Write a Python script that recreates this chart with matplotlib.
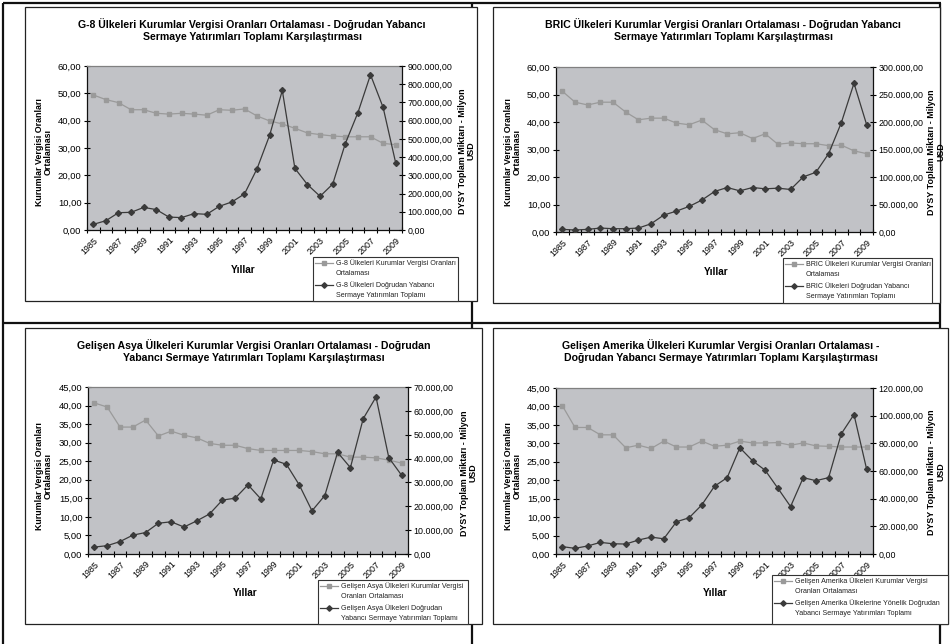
import numpy as np
import matplotlib
matplotlib.use('Agg')
import matplotlib.pyplot as plt
from matplotlib.lines import Line2D
from matplotlib.patches import Rectangle
from matplotlib.ticker import FuncFormatter

plt.rcParams['font.family'] = ['Liberation Sans', 'DejaVu Sans']

YEARS = list(range(1985, 2010))

G8_TAX = [49.4, 47.7, 46.6, 44.0, 44.0, 42.7, 42.4, 42.7, 42.4, 42.0, 44.0, 43.8, 44.3,
          41.7, 39.9, 38.8, 37.2, 35.5, 34.9, 34.4, 34.1, 34.1, 34.1, 31.7, 31.2]
G8_FDI = [31000, 51000, 95000, 97000, 124000, 112000, 71000, 68000, 90000, 86000, 130000,
          154000, 198000, 337000, 521000, 766000, 338000, 249000, 185000, 252000, 474000,
          644000, 852000, 673000, 368000]

BRIC_TAX = [51.2, 47.2, 46.2, 47.2, 47.2, 43.6, 40.8, 41.4, 41.4, 39.6, 39.0, 40.7, 37.2,
            35.7, 36.1, 34.0, 35.7, 31.9, 32.4, 32.1, 32.1, 31.4, 31.6, 29.5, 28.5]
BRIC_FDI = [4800, 3600, 4800, 7200, 6000, 6000, 7200, 15000, 30800, 38000, 46500, 58000,
            73600, 80900, 74800, 80900, 78500, 79700, 77300, 100200, 108600, 142400,
            198600, 270400, 195000]

ASYA_TAX = [40.7, 39.6, 34.2, 34.2, 36.1, 31.8, 33.1, 32.0, 31.3, 29.8, 29.3, 29.3, 28.4,
            27.9, 27.9, 27.9, 27.9, 27.6, 27.0, 27.0, 26.1, 26.1, 25.9, 25.3, 24.5]
ASYA_FDI = [2900, 3500, 5200, 7900, 9000, 12900, 13500, 11300, 13900, 16800, 22600, 23400,
            29000, 23100, 39400, 37600, 29000, 18100, 24500, 42600, 36200, 56700, 65800,
            40400, 33000]

AMERIKA_TAX = [40.2, 34.3, 34.3, 32.3, 32.3, 28.8, 29.5, 28.6, 30.6, 29.0, 29.0, 30.6, 29.2,
               29.5, 30.6, 30.1, 30.1, 30.2, 29.5, 30.1, 29.3, 29.2, 29.0, 29.0, 29.0]
AMERIKA_FDI = [5300, 4100, 5800, 8400, 7400, 7200, 10100, 12200, 11000, 23300, 26200, 35500,
               49000, 55200, 76800, 67400, 60500, 47500, 34300, 55200, 53000, 55200, 86900,
               100800, 61200]

TITLES = [
    'G-8 Ülkeleri Kurumlar Vergisi Oranları Ortalaması - Doğrudan Yabancı\n'
    'Sermaye Yatırımları Toplamı Karşılaştırması',
    'BRIC Ülkeleri Kurumlar Vergisi Oranları Ortalaması - Doğrudan Yabancı\n'
    'Sermaye Yatırımları Toplamı Karşılaştırması',
    'Gelişen Asya Ülkeleri Kurumlar Vergisi Oranları Ortalaması - Doğrudan\n'
    'Yabancı Sermaye Yatırımları Toplamı Karşılaştırması',
    'Gelişen Amerika Ülkeleri Kurumlar Vergisi Oranları Ortalaması -\n'
    'Doğrudan Yabancı Sermaye Yatırımları Toplamı Karşılaştırması',
]
TAX_LABELS = [
    'G-8 Ülkeleri Kurumlar Vergisi Oranları\nOrtalaması',
    'BRIC Ülkeleri Kurumlar Vergisi Oranları\nOrtalaması',
    'Gelişen Asya Ülkeleri Kurumlar Vergisi\nOranları Ortalaması',
    'Gelişen Amerika Ülkeleri Kurumlar Vergisi\nOranları Ortalaması',
]
FDI_LABELS = [
    'G-8 Ülkeleri Doğrudan Yabancı\nSermaye Yatırımları Toplamı',
    'BRIC Ülkeleri Doğrudan Yabancı\nSermaye Yatırımları Toplamı',
    'Gelişen Asya Ülkeleri Doğrudan\nYabancı Sermaye Yatırımları Toplamı',
    'Gelişen Amerika Ülkelerine Yönelik Doğrudan\nYabancı Sermaye Yatırımları Toplamı',
]
LEFT_LIMITS = [(60, 10), (60, 10), (45, 5), (45, 5)]
RIGHT_LIMITS = [(900000, 100000), (300000, 50000), (70000, 10000), (120000, 20000)]

TAX_COLOR = '#9a9a9a'
FDI_COLOR = '#3a3a3a'
PLOT_BG = '#c1c2c6'

W, H = 950, 644


def fx(x):
    return x / W


def fy(y):
    return 1 - y / H


def tr_number(v, _pos=None):
    s = f'{v:,.2f}'
    return s.replace(',', '#').replace('.', ',').replace('#', '.')


fig = plt.figure(figsize=(W / 100, H / 100), dpi=100)


def fig_line(x0, y0, x1, y1, lw=1.6, color='#111111', z=-3):
    fig.add_artist(Line2D([fx(x0), fx(x1)], [fy(y0), fy(y1)], transform=fig.transFigure,
                          color=color, lw=lw, zorder=z, solid_capstyle='butt'))


def fig_rect(x0, y0, x1, y1, lw=0.9, edge='#222222', z=-2):
    fig.add_artist(Rectangle((fx(x0), fy(y1)), fx(x1) - fx(x0), fy(y0) - fy(y1),
                             transform=fig.transFigure, facecolor='white', edgecolor=edge,
                             lw=lw, zorder=z))


# table lines behind the chart frames
fig_line(3, 3, 941, 3)
fig_line(3, 3, 3, 644)
fig_line(3, 323, 941, 323)
fig_line(472, 3, 472, 644)
fig_line(940, 3, 940, 644)

# pixel layouts for each panel (frame, plot area, labels, legend)
PANELS = [
    dict(frame=(25, 7, 477, 301), plot=(87, 66, 402, 230), title=(252, 30),
         ylab=(44, 152), ylab2=(467, 151), xlab=(243, 270), legend=(313, 257, 458, 301)),
    dict(frame=(493, 7, 940, 303), plot=(556, 67, 873, 232), title=(723, 30),
         ylab=(513, 152), ylab2=(936, 152), xlab=(716, 272), legend=(783, 258, 932, 303)),
    dict(frame=(25, 328, 482, 624), plot=(88, 387, 408, 554), title=(254, 351),
         ylab=(44, 476), ylab2=(469, 473), xlab=(245, 593), legend=(318, 580, 468, 624)),
    dict(frame=(493, 328, 948, 624), plot=(556, 388, 873, 554), title=(721, 351),
         ylab=(513, 476), ylab2=(936, 472), xlab=(715, 593), legend=(772, 575, 948, 624)),
]

TAX_SERIES = [G8_TAX, BRIC_TAX, ASYA_TAX, AMERIKA_TAX]
FDI_SERIES = [G8_FDI, BRIC_FDI, ASYA_FDI, AMERIKA_FDI]

x = np.arange(len(YEARS))

for i, p in enumerate(PANELS):
    fig_rect(*p['frame'])

    x0, y0, x1, y1 = p['plot']
    ax = fig.add_axes((fx(x0), fy(y1), fx(x1) - fx(x0), fy(y0) - fy(y1)))
    ax.set_facecolor(PLOT_BG)
    ax2 = ax.twinx()

    ax.plot(x, TAX_SERIES[i], color=TAX_COLOR, lw=0.9, marker='s', ms=2.8,
            mec=TAX_COLOR, mfc=TAX_COLOR, zorder=3)
    ax2.plot(x, FDI_SERIES[i], color=FDI_COLOR, lw=0.9, marker='D', ms=3.0,
             mec=FDI_COLOR, mfc=FDI_COLOR, zorder=4)

    lmax, lstep = LEFT_LIMITS[i]
    rmax, rstep = RIGHT_LIMITS[i]
    ax.set_ylim(0, lmax)
    ax.set_yticks(np.arange(0, lmax + lstep / 2, lstep))
    ax2.set_ylim(0, rmax)
    ax2.set_yticks(np.arange(0, rmax + rstep / 2, rstep))
    ax.yaxis.set_major_formatter(FuncFormatter(tr_number))
    ax2.yaxis.set_major_formatter(FuncFormatter(tr_number))

    ax.set_xlim(-0.5, len(YEARS) - 0.5)
    ax.set_xticks(x[::2])
    ax.set_xticklabels([str(y) for y in YEARS[::2]], rotation=45, ha='right', va='top',
                       rotation_mode='anchor', fontsize=6.4)
    ax.set_xticks(np.arange(-0.5, len(YEARS), 1), minor=True)
    ax.tick_params(axis='x', which='major', length=0, pad=4)
    ax.tick_params(axis='x', which='minor', direction='inout', length=4, width=0.8)
    ax.tick_params(axis='y', direction='inout', length=4, width=0.8, labelsize=6.8, pad=2)
    ax2.tick_params(axis='y', direction='inout', length=4, width=0.8, labelsize=6.4, pad=2)

    for name, sp in ax.spines.items():
        sp.set_linewidth(0.9)
        sp.set_color('#111111' if name in ('left', 'bottom') else '#808080')
    ax.spines['right'].set_visible(False)
    for name, sp in ax2.spines.items():
        sp.set_visible(name == 'right')
    ax2.spines['right'].set_color('#111111')
    ax2.spines['right'].set_linewidth(0.9)

    tx, ty = p['title']
    fig.text(fx(tx), fy(ty), TITLES[i], ha='center', va='center', fontsize=7.6,
             fontweight='bold', multialignment='center', linespacing=1.2)
    lx, ly = p['ylab']
    fig.text(fx(lx), fy(ly), 'Kurumlar Vergisi Oranları\nOrtalaması', rotation=90,
             ha='center', va='center', fontsize=6.4, fontweight='bold',
             multialignment='center', linespacing=1.0)
    rx, ry = p['ylab2']
    fig.text(fx(rx), fy(ry), 'DYSY Toplam Miktarı - Milyon\nUSD', rotation=90,
             ha='center', va='center', fontsize=6.4, fontweight='bold',
             multialignment='center', linespacing=1.0)
    xx, xy = p['xlab']
    fig.text(fx(xx), fy(xy), 'Yıllar', ha='center', va='center', fontsize=7.2,
             fontweight='bold')

    # legend box drawn over the tick labels, like the original
    bx0, by0, bx1, by1 = p['legend']
    fig_rect(bx0, by0, bx1, by1, lw=0.8, edge='#333333', z=5)
    for k, (label, color, marker) in enumerate(
            [(TAX_LABELS[i], TAX_COLOR, 's'), (FDI_LABELS[i], FDI_COLOR, 'D')]):
        sy = by0 + 6 + k * 22
        fig.add_artist(Line2D([fx(bx0 + 2), fx(bx0 + 11), fx(bx0 + 20)], [fy(sy)] * 3,
                              transform=fig.transFigure, color=color, lw=0.9,
                              marker=marker, markevery=[1], ms=2.8, zorder=6))
        fig.text(fx(bx0 + 23), fy(sy - 3.5), label, ha='left', va='top', fontsize=5.1,
                 linespacing=1.45, zorder=7, color='#222222')

fig.savefig('out.png', dpi=100)
